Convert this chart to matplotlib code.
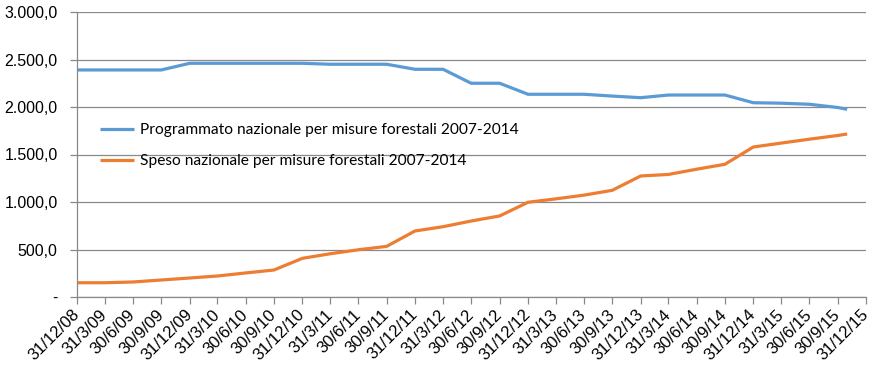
import matplotlib
matplotlib.use("Agg")
import matplotlib.pyplot as plt
import matplotlib.ticker as mticker
import pandas as pd

# quarterly ticks on the date axis
tick_labels = ["31/12/08", "31/3/09", "30/6/09", "30/9/09", "31/12/09", "31/3/10", "30/6/10",
               "30/9/10", "31/12/10", "31/3/11", "30/6/11", "30/9/11", "31/12/11", "31/3/12",
               "30/6/12", "30/9/12", "31/12/12", "31/3/13", "30/6/13", "30/9/13", "31/12/13",
               "31/3/14", "30/6/14", "30/9/14", "31/12/14", "31/3/15", "30/6/15", "30/9/15",
               "31/12/15"]

# dates of the observations (last one is end of October 2015)
data_dates = tick_labels[:-1] + ["31/10/15"]

programmato = [2390, 2390, 2390, 2390, 2460, 2460, 2460, 2460, 2460, 2450, 2450, 2450,
               2397, 2397, 2250, 2250, 2134, 2134, 2134, 2115, 2098, 2126, 2126, 2126,
               2045, 2040, 2029, 1995, 1976]
speso = [150, 150, 158, 179, 200, 221, 253, 284, 407, 455, 497, 533, 695, 740, 800, 853,
         997, 1033, 1072, 1123, 1274, 1290, 1345, 1397, 1579, 1620, 1661, 1700, 1716]

label_prog = "Programmato nazionale per misure forestali 2007-2014"
label_speso = "Speso nazionale per misure forestali 2007-2014"

ticks = pd.to_datetime(tick_labels, format="%d/%m/%y")
x = pd.to_datetime(data_dates, format="%d/%m/%y")

grey = "#898989"

fig = plt.figure(figsize=(8.73, 3.69), dpi=100)
ax = fig.add_axes([77 / 873, 1 - 297 / 369, 789 / 873, 285 / 369])

ax.plot(x, programmato, color="#5B9BD5", lw=2.3, label=label_prog, solid_capstyle="butt")
ax.plot(x, speso, color="#ED7D31", lw=2.3, label=label_speso, solid_capstyle="butt")

ax.set_xlim(ticks[0], ticks[-1])
ax.set_ylim(0, 3000)
ax.set_yticks(range(0, 3001, 500))


def it_fmt(v, pos):
    if v == 0:
        return "-"
    s = f"{v:,.1f}"
    return s.replace(",", "X").replace(".", ",").replace("X", ".")


ax.yaxis.set_major_formatter(mticker.FuncFormatter(it_fmt))
ax.set_xticks(ticks)
ax.set_xticklabels(tick_labels, rotation=45, ha="right", va="center",
                   rotation_mode="anchor", fontfamily="Liberation Sans", fontsize=12)
for t in ax.get_yticklabels():
    t.set_fontfamily("Liberation Sans")
    t.set_fontsize(11.5)

ax.grid(axis="y", color=grey, lw=0.9)
ax.set_axisbelow(True)
for s in ["top", "right"]:
    ax.spines[s].set_visible(False)
for s in ["left", "bottom"]:
    ax.spines[s].set_color(grey)
    ax.spines[s].set_linewidth(0.9)
ax.tick_params(axis="x", colors=grey, length=5, width=0.9, labelcolor="black", pad=6)
ax.tick_params(axis="y", colors=grey, length=5, width=0.9, labelcolor="black", pad=9)

ax.legend(loc="upper left", bbox_to_anchor=(0.029, 0.61), frameon=False, borderpad=0,
          borderaxespad=0, handlelength=2.2, handletextpad=0.4, labelspacing=1.1,
          prop={"family": "Lato", "size": 11.2})

fig.savefig("out.png", dpi=100)
